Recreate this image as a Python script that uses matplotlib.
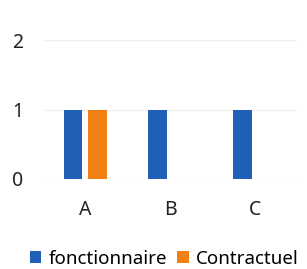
import matplotlib
matplotlib.use("Agg")
import matplotlib.pyplot as plt
import numpy as np

categories = ["A", "B", "C"]
fonctionnaire = [1, 1, 1]
contractuel = [1, 0, 0]
yticks = [0, 1, 2]

blue = "#1F5FB5"
orange = "#F27F14"

plt.rcParams["font.family"] = ["Noto Sans", "DejaVu Sans"]

fig = plt.figure(figsize=(3.07, 2.69), dpi=100)
ax = fig.add_axes([43 / 307, 90 / 269, 254 / 307, 139 / 269])

x = np.arange(len(categories))
w = 0.22
off = 0.145
ax.bar(x - off, fonctionnaire, w, color=blue, label="fonctionnaire", zorder=3)
ax.bar(x + off, contractuel, w, color=orange, label="Contractuel", zorder=3)

ax.set_xlim(-0.5, 2.5)
ax.set_ylim(0, 2)
ax.set_yticks(yticks)
ax.set_xticks(x)
ax.set_xticklabels(categories)
ax.tick_params(axis="y", length=0, pad=14, labelsize=14, colors="#222222")
ax.tick_params(axis="x", length=0, pad=15, labelsize=14, colors="#222222")
ax.grid(axis="y", color="#F0F0F0", linewidth=1, zorder=0)
for s in ax.spines.values():
    s.set_visible(False)

fig.legend(loc="center", bbox_to_anchor=(0.535, 10 / 269), ncol=2,
           frameon=False, fontsize=13.5, handlelength=0.6, handleheight=0.6,
           handletextpad=0.4, columnspacing=0.55, borderaxespad=0)

fig.savefig("out.png", dpi=100)
